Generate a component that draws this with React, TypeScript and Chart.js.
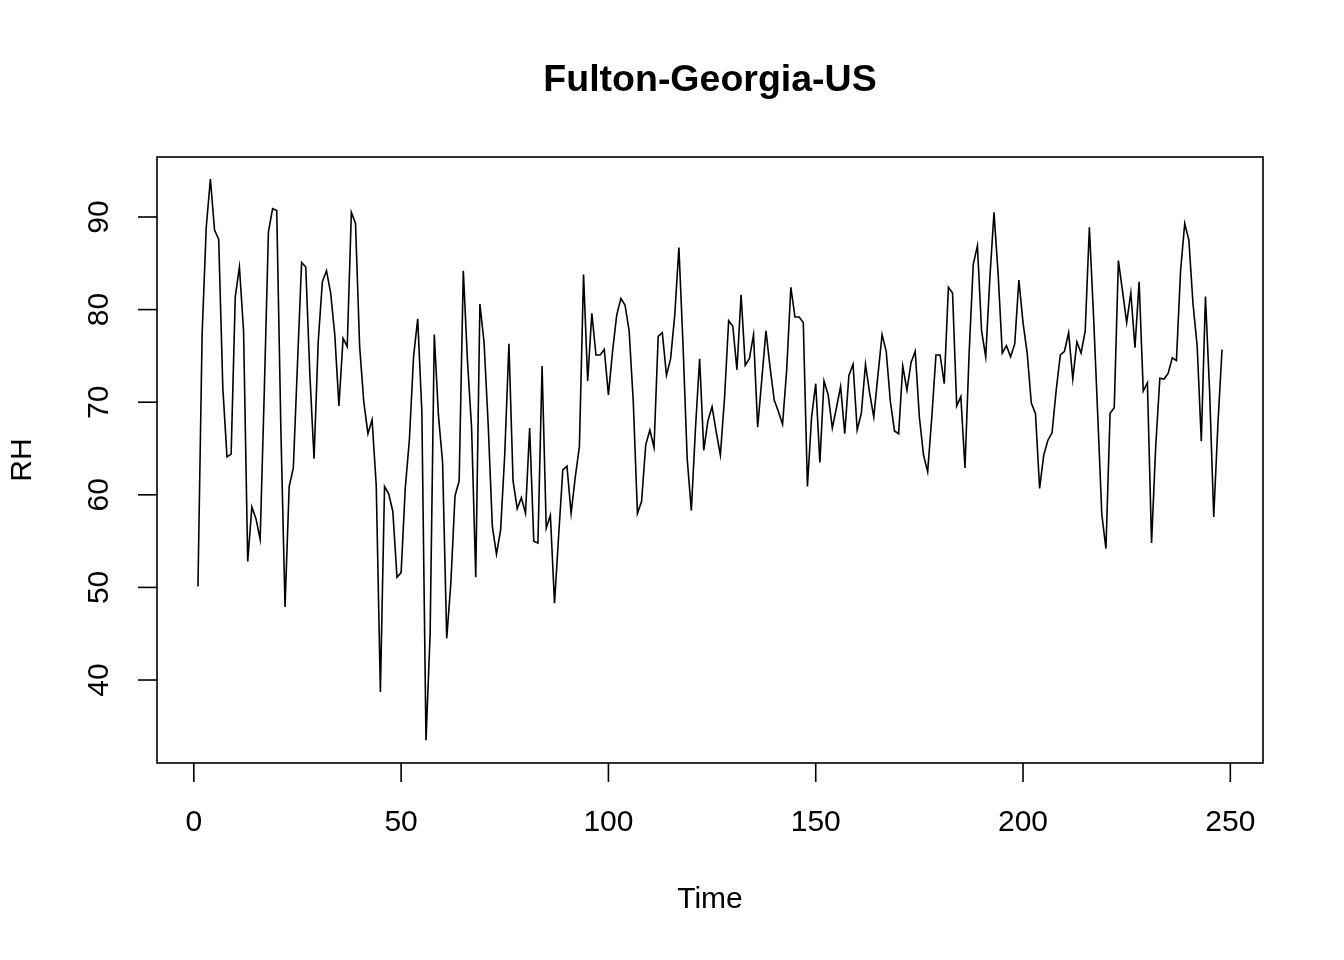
import Chart from 'chart.js/auto';
import { useEffect, useRef } from 'react';

const chartTitle = 'Fulton-Georgia-US';
const xTitle = 'Time';
const yTitle = 'RH';

const xTicks = [0, 50, 100, 150, 200, 250];
const yTicks = [40, 50, 60, 70, 80, 90];

// relative humidity, one value per time step (1..248)
const rh = [
	50.1, 77.3, 88.9, 94.1, 88.6, 87.6, 71.5, 64.1, 64.4, 81.4,
	84.6, 77.7, 52.8, 58.7, 57.4, 55.2, 71.2, 88.4, 90.9, 90.7,
	67.0, 47.9, 60.9, 62.9, 74.1, 85.1, 84.6, 72.9, 63.9, 76.5,
	83.0, 84.2, 81.8, 77.3, 69.6, 76.9, 76.0, 90.5, 89.3, 76.0,
	70.0, 66.6, 68.1, 61.0, 38.7, 60.9, 60.1, 58.2, 51.1, 51.6,
	60.7, 66.0, 74.9, 79.0, 69.0, 33.5, 45.0, 77.3, 68.6, 63.5,
	44.5, 50.5, 59.9, 61.5, 84.2, 74.5, 67.2, 51.1, 80.6, 76.5,
	67.6, 56.6, 53.6, 56.2, 64.4, 76.3, 61.5, 58.5, 59.7, 58.0,
	67.2, 55.0, 54.8, 73.9, 56.4, 57.8, 48.3, 55.6, 62.7, 63.1,
	58.0, 61.9, 65.2, 83.8, 72.3, 79.6, 75.1, 75.1, 75.7, 70.8,
	75.5, 79.4, 81.2, 80.5, 77.7, 70.0, 58.0, 59.3, 65.4, 67.0,
	65.1, 77.1, 77.5, 72.9, 74.7, 79.4, 86.7, 76.1, 63.9, 58.3,
	67.2, 74.7, 64.8, 68.0, 69.5, 66.8, 64.3, 70.4, 78.8, 78.2,
	73.5, 81.6, 74.0, 74.7, 77.3, 67.3, 72.5, 77.7, 73.7, 70.2,
	69.0, 67.6, 73.5, 82.4, 79.2, 79.2, 78.6, 60.9, 68.4, 72.0,
	63.5, 72.3, 70.8, 67.2, 69.4, 71.7, 66.6, 72.9, 74.1, 67.0,
	68.8, 74.1, 71.0, 68.4, 72.9, 77.3, 75.5, 70.1, 66.9, 66.6,
	73.9, 71.3, 74.3, 75.5, 68.4, 64.3, 62.5, 68.4, 75.1, 75.1,
	72.0, 82.4, 81.8, 69.6, 70.6, 62.9, 75.3, 84.9, 86.9, 77.7,
	74.9, 83.4, 90.5, 83.8, 75.3, 76.1, 74.9, 76.3, 83.2, 78.6,
	75.3, 69.9, 68.8, 60.7, 64.3, 65.9, 66.7, 71.3, 75.1, 75.5,
	77.5, 72.5, 76.5, 75.3, 77.7, 88.9, 79.4, 68.8, 57.9, 54.2,
	68.8, 69.4, 85.3, 82.0, 78.6, 81.8, 75.9, 83.0, 71.2, 72.1,
	54.8, 65.2, 72.6, 72.5, 73.1, 74.8, 74.5, 84.2, 89.3, 87.5,
	80.6, 76.1, 65.8, 81.4, 71.2, 57.6, 67.6, 75.7,
];

const FONT = "'Liberation Sans', Arial, sans-serif";

// R-style box, ticks and labels drawn from the chart's scales
const baseAxesPlugin = {
	id: 'baseAxes',
	afterDraw(chart: any) {
		const { ctx, chartArea } = chart;
		const { left, right, top, bottom } = chartArea;
		const xs = chart.scales.x;
		const ys = chart.scales.y;
		ctx.save();
		ctx.strokeStyle = '#000';
		ctx.fillStyle = '#000';
		ctx.lineWidth = 1.6;
		ctx.strokeRect(left, top, right - left, bottom - top);

		ctx.font = `30px ${FONT}`;
		ctx.textAlign = 'center';
		ctx.textBaseline = 'middle';
		xTicks.forEach((t) => {
			const px = xs.getPixelForValue(t);
			ctx.beginPath();
			ctx.moveTo(px, bottom);
			ctx.lineTo(px, bottom + 19);
			ctx.stroke();
			ctx.fillText(String(t), px, bottom + 60);
		});
		yTicks.forEach((t) => {
			const py = ys.getPixelForValue(t);
			ctx.beginPath();
			ctx.moveTo(left, py);
			ctx.lineTo(left - 19, py);
			ctx.stroke();
			ctx.save();
			ctx.translate(left - 57, py);
			ctx.rotate(-Math.PI / 2);
			ctx.fillText(String(t), 0, 0);
			ctx.restore();
		});

		const cx = (left + right) / 2;
		ctx.fillText(xTitle, cx, 900);
		ctx.save();
		ctx.translate(23, (top + bottom) / 2);
		ctx.rotate(-Math.PI / 2);
		ctx.fillText(yTitle, 0, 0);
		ctx.restore();

		ctx.font = `bold 37.5px ${FONT}`;
		ctx.fillText(chartTitle, cx, 81);
		ctx.restore();
	},
};

function App() {
	const chartRef = useRef<HTMLCanvasElement | null>(null);

	useEffect(() => {
		if (!chartRef.current) return;

		const chart = new Chart(chartRef.current, {
			type: 'line',
			data: {
				datasets: [
					{
						data: rh.map((v, i) => ({ x: i + 1, y: v })),
						borderColor: '#000',
						borderWidth: 1.6,
						pointRadius: 0,
						tension: 0,
						fill: false,
					},
				],
			},
			options: {
				animation: false,
				responsive: false,
				devicePixelRatio: 1,
				layout: {
					padding: { left: 157, top: 157, right: 81, bottom: 197 },
				},
				plugins: {
					legend: { display: false },
					tooltip: { enabled: false },
				},
				scales: {
					x: { type: 'linear', min: -8.88, max: 257.88, display: false },
					y: { type: 'linear', min: 31.04, max: 96.48, display: false },
				},
			},
			plugins: [baseAxesPlugin],
		});

		return () => {
			chart.destroy();
		};
	}, []);

	return (
		<div style={{ position: 'fixed', left: 0, top: 0, width: 1344, height: 960, background: '#fff' }}>
			<canvas ref={chartRef} width={1344} height={960}></canvas>
		</div>
	);
}

export default App;
